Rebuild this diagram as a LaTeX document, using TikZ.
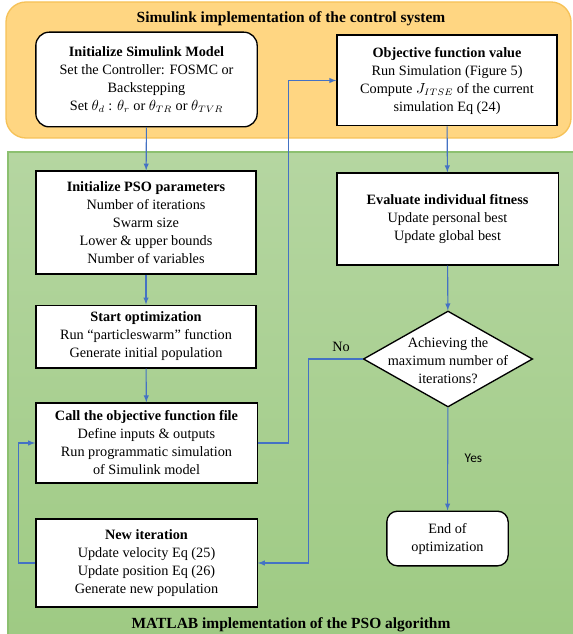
\documentclass[tikz,border=0pt]{standalone}
\usepackage{fontspec}
\setmainfont{Liberation Serif}
\newfontfamily\labelfont{Carlito}
\usetikzlibrary{shapes.geometric}

\definecolor{panelorange}{RGB}{255,214,130}
\definecolor{orangeedge}{RGB}{246,194,88}
\definecolor{greentop}{RGB}{181,214,161}
\definecolor{greenbot}{RGB}{158,202,131}
\definecolor{greenedge}{RGB}{140,192,112}
\definecolor{flowblue}{RGB}{68,114,196}

\tikzset{
  box/.style={draw, line width=1pt, fill=white, align=center, inner sep=2pt,
    font=\fontsize{10.7}{13.5}\selectfont},
  rbox/.style={box, rounded corners=10pt},
  flow/.style={draw=flowblue, line width=0.8pt, -latex},
  paneltitle/.style={font=\bfseries\fontsize{11.6}{14}\selectfont},
}

\begin{document}
\begin{tikzpicture}[x=0.75pt, y=-0.75pt]
    \useasboundingbox (0,0) rectangle (572,634);

    % the two panels
    \draw[orangeedge, fill=panelorange, line width=1pt, rounded corners=15pt] (6,2) rectangle (571,138);
    \draw[greenedge, top color=greentop, bottom color=greenbot, line width=1pt] (8,152) rectangle (580,642);
    \node (simtitle) [paneltitle] at (291,19) {Simulink implementation of the control system};
    \node (psotitle) [paneltitle] at (291,625) {MATLAB implementation of the PSO algorithm};

    \node (init) [rbox, minimum width=166pt, minimum height=71pt] at (146.5,79.5) {\textbf{Initialize Simulink Model}\\Set the Controller: FOSMC or\\Backstepping\\Set $\theta_d$ : $\theta_r$ or $\theta_{TR}$ or $\theta_{TVR}$};
    \node (objval) [box, minimum width=165pt, minimum height=68pt] at (447,80.5) {\textbf{Objective function value}\\Run Simulation (Figure 5)\\Compute $J_{ITSE}$ of the current\\simulation Eq (24)};
    \node (psopar) [box, minimum width=165pt, minimum height=77pt] at (146,222.5) {\textbf{Initialize PSO parameters}\\Number of iterations\\Swarm size\\Lower \& upper bounds\\Number of variables};
    \node (startopt) [box, minimum width=165pt, minimum height=47pt] at (146,336.5) {\textbf{Start optimization}\\Run “particleswarm” function\\Generate initial population};
    \node (callobj) [box, minimum width=166pt, minimum height=60pt] at (146.5,443) {\textbf{Call the objective function file}\\Define inputs \& outputs\\Run programmatic simulation\\of Simulink model};
    \node (newit) [box, minimum width=166pt, minimum height=66pt] at (146.5,563) {\textbf{New iteration}\\Update velocity Eq (25)\\Update position Eq (26)\\Generate new population};
    \node (evalfit) [box, minimum width=166pt, minimum height=69pt] at (447.5,219) {\textbf{Evaluate individual fitness}\\Update personal best\\Update global best};
    \node (dec) [diamond, draw, line width=1pt, fill=white, inner sep=0pt, minimum width=127pt, minimum height=72pt] at (448,359) {};
    \node (dectxt) [align=center, font=\fontsize{10.7}{13.5}\selectfont] at (448,361) {Achieving the\\maximum number of\\iterations?};
    \node (endopt) [rbox, rounded corners=8pt, minimum width=91pt, minimum height=41pt] at (447.5,538.5) {End of\\optimization};

    \draw[flow] (init) -- (psopar);
    \draw[flow] (psopar) -- (startopt);
    \draw[flow] (startopt) -- (callobj);
    \draw[flow] (callobj.east) -- ++(31,0) |- (objval.west);
    \draw[flow] (objval) -- (evalfit);
    \draw[flow] (evalfit) -- (dec);
    \draw[flow] (dec) -- node[right=9pt, pos=0.49, font=\labelfont\fontsize{10}{12}\selectfont]{Yes} (endopt);
    \draw[flow] (dec.west) -- node[above=2pt, pos=0.4, font=\fontsize{10.7}{13}\selectfont]{No} ++(-54,0) |- (newit.east);
    \draw[flow] (newit.west) -- ++(-17,0) |- (callobj.west);

\end{tikzpicture}
\end{document}
